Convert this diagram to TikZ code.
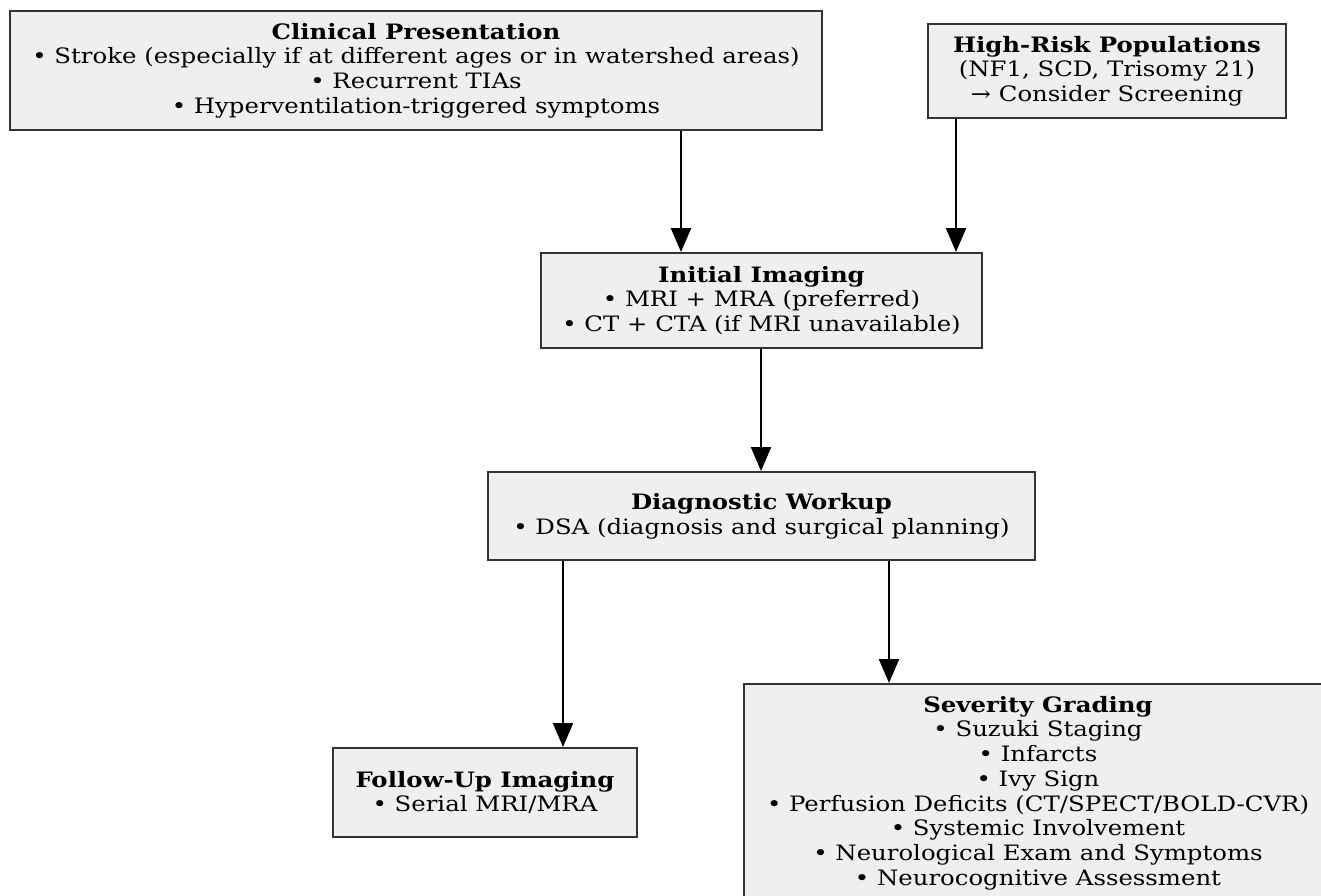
\documentclass[tikz,border=0pt]{standalone}
\usepackage{fontspec}
\setmainfont{DejaVu Serif}[FakeStretch=1.15]
\usepackage{xcolor}
\usepackage{tikz}
\usetikzlibrary{arrows.meta,positioning}
\definecolor{boxfill}{HTML}{EFEFEF}
\definecolor{boxline}{HTML}{333333}
\definecolor{ink}{HTML}{000000}
\tikzset{
  card/.style={draw=boxline, fill=boxfill, line width=2pt, align=center, inner sep=0pt, text=ink, font=\fontsize{21.2}{24.7}\selectfont},
  flow/.style={draw=ink, line width=2.2pt, -{Triangle[length=24pt, width=20pt]}},
}

\begin{document}
\begin{tikzpicture}[x=1pt, y=-1pt]
\useasboundingbox (0,0) rectangle (1321,895);
\node[card, minimum width=812pt, minimum height=119pt] (clin) at (416,70.5) {\textbf{Clinical Presentation}\\
  • Stroke (especially if at different ages or in watershed areas)\\
  • Recurrent TIAs\\
  • Hyperventilation-triggered symptoms};
\node[card, minimum width=358pt, minimum height=94pt] (risk) at (1107,71) {\textbf{High-Risk Populations}\\
  (NF1, SCD, Trisomy 21)\\
  → Consider Screening};
\node[card, minimum width=441pt, minimum height=95pt] (init) at (761.5,300.5) {\textbf{Initial Imaging}\\
  • MRI + MRA (preferred)\\
  • CT + CTA (if MRI unavailable)};
\node[card, minimum width=547pt, minimum height=88pt] (diag) at (761.5,516) {\textbf{Diagnostic Workup}\\
  • DSA (diagnosis and surgical planning)};
\node[card, minimum width=304pt, minimum height=89pt] (follow) at (485,792.5) {\textbf{Follow-Up Imaging}\\
  • Serial MRI/MRA};
\node[card, minimum width=588pt, minimum height=218pt] (sev) at (1038,793) {\textbf{Severity Grading}\\
  • Suzuki Staging\\
  • Infarcts\\
  • Ivy Sign\\
  • Perfusion Deficits (CT/SPECT/BOLD-CVR)\\
  • Systemic Involvement\\
  • Neurological Exam and Symptoms\\
  • Neurocognitive Assessment};
\draw[flow] (clin.south -| 681,0) -- (init.north -| 681,0);
\draw[flow] (risk.south -| 956,0) -- (init.north -| 956,0);
\draw[flow] (init.south -| 761,0) -- (diag.north -| 761,0);
\draw[flow] (diag.south -| 563,0) -- (follow.north -| 563,0);
\draw[flow] (diag.south -| 889,0) -- (sev.north -| 889,0);
\end{tikzpicture}
\end{document}
